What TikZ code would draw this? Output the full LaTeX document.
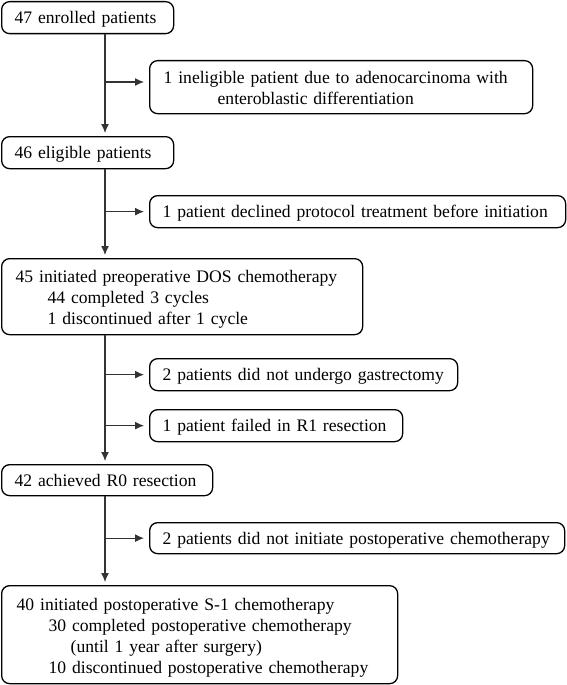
\documentclass[tikz,border=0pt]{standalone}
\usepackage{fontspec}
\setmainfont{Liberation Serif}
\usetikzlibrary{arrows.meta}
\tikzset{
  box/.style={draw=black, line width=1.3pt, rounded corners=8pt, anchor=north west,
    inner xsep=13pt, inner ysep=0pt, align=left,
    font=\fontsize{17.6pt}{21pt}\selectfont,
    execute at begin node={\hyphenpenalty=10000\exhyphenpenalty=10000\hfuzz=60pt\hbadness=10000}},
  sbox/.style={box, text depth=0pt},
  conn/.style={draw=black!80, line width=1.2pt, -{Latex[length=9pt,width=8pt]}},
  down/.style={conn, shorten >=3pt},
  side/.style={conn, shorten >=5pt},
}
\begin{document}
\begin{tikzpicture}[x=1pt,y=1pt]
\useasboundingbox (0,0) rectangle (566,-685);
\coordinate (tx) at (105,0);
\node[sbox, minimum width=172pt, minimum height=32pt, text width=146pt, inner xsep=12pt] (b1) at (1,-1) {\mbox{47 enrolled patients}};
\node[box, minimum width=383pt, minimum height=53pt, text width=355pt, inner xsep=14pt, text depth=19pt] (b2) at (149,-60) {\mbox{1 ineligible patient due to adenocarcinoma with}\\\mbox{\hspace*{54pt}enteroblastic differentiation}};
\node[sbox, minimum width=172pt, minimum height=32pt, text width=146pt, inner xsep=12pt] (b3) at (1,-136) {\mbox{46 eligible patients}};
\node[sbox, minimum width=416pt, minimum height=32pt, text width=390pt] (b4) at (149,-195) {\mbox{1 patient declined protocol treatment before initiation}};
\node[box, minimum width=361pt, minimum height=76pt, text width=333pt, inner xsep=14pt, text depth=40pt] (b5) at (1,-258) {\mbox{45 initiated preoperative DOS chemotherapy}\\\mbox{\hspace*{32pt}44 completed 3 cycles}\\\mbox{\hspace*{32pt}1 discontinued after 1 cycle}};
\node[sbox, minimum width=308pt, minimum height=32pt, text width=282pt] (b6) at (149,-358) {\mbox{2 patients did not undergo gastrectomy}};
\node[sbox, minimum width=253pt, minimum height=32pt, text width=227pt] (b7) at (149,-409) {\mbox{1 patient failed in R1 resection}};
\node[sbox, minimum width=211pt, minimum height=31pt, text width=185pt, inner xsep=12pt] (b8) at (1,-464) {\mbox{42 achieved R0 resection}};
\node[sbox, minimum width=415pt, minimum height=31pt, text width=389pt] (b9) at (149,-522) {\mbox{2 patients did not initiate postoperative chemotherapy}};
\node[box, minimum width=396pt, minimum height=98pt, text width=366pt, inner xsep=15pt, text depth=61pt] (b10) at (1,-585) {\mbox{40 initiated postoperative S-1 chemotherapy}\\\mbox{\hspace*{32pt}30 completed postoperative chemotherapy}\\\mbox{\hspace*{54pt}(until 1 year after surgery)}\\\mbox{\hspace*{32pt}10 discontinued postoperative chemotherapy}};
% trunk
\draw[down] (b1.south -| tx) -- (b3.north -| tx);
\draw[down] (b3.south -| tx) -- (b5.north -| tx);
\draw[down] (b5.south -| tx) -- (b8.north -| tx);
\draw[down] (b8.south -| tx) -- (b10.north -| tx);
% side branches
\coordinate (j2) at (105,-82);
\draw[side] (j2) -- (j2 -| b2.west);
\draw[side] (b4.west -| tx) -- (b4.west);
\draw[side] (b6.west -| tx) -- (b6.west);
\draw[side] (b7.west -| tx) -- (b7.west);
\draw[side] (b9.west -| tx) -- (b9.west);
\end{tikzpicture}
\end{document}
